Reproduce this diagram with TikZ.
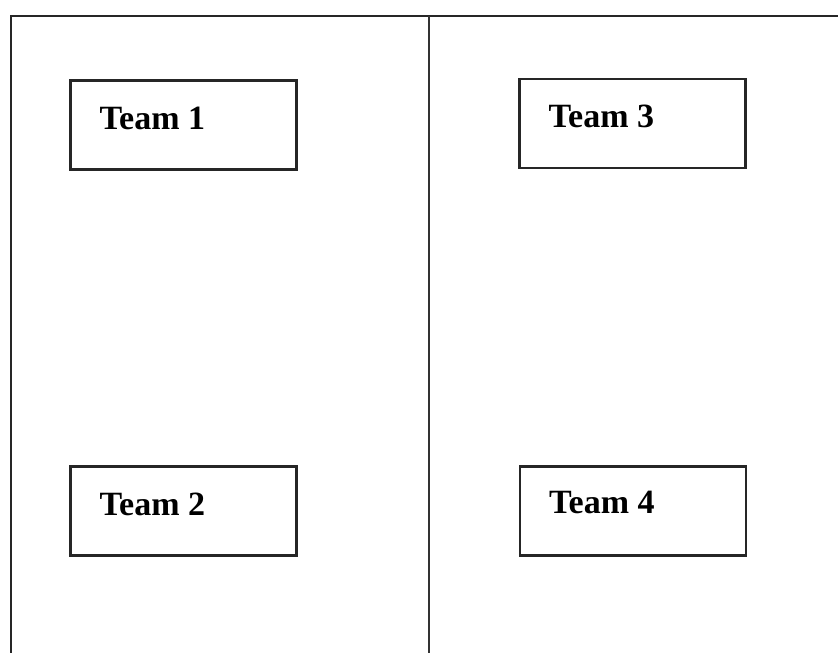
\documentclass[tikz,border=0pt]{standalone}
\usepackage{fontspec}
\setmainfont{Liberation Serif}
\begin{document}
\begin{tikzpicture}[x=1pt,y=-1pt,
  teambox/.style={draw=black!85,line width=2.2pt,minimum width=226pt,minimum height=89pt,inner sep=0pt},
  teamtext/.style={anchor=west,inner sep=0pt,font=\bfseries\fontsize{34}{38}\selectfont}]
\useasboundingbox (0,0) rectangle (838,653);
\coordinate (bl) at (11,653);
\coordinate (tl) at (11,16);
\coordinate (tr) at (838,16);
\coordinate (dt) at (429,16);
\coordinate (db) at (429,653);
\draw[line width=2.4pt,black!85] (bl) -- (tl) -- (tr);
\draw[line width=2.2pt,black!80] (dt) -- (db);
\node[teambox] (b1) at (183.5,125) {};
\node[teambox] (b3) at (632.5,123.5) {};
\node[teambox] (b2) at (183.5,511) {};
\node[teambox] (b4) at (633,511) {};
\node[teamtext] (t1) at ([xshift=30pt,yshift=7pt]b1.west) {Team 1};
\node[teamtext] (t3) at ([xshift=30pt,yshift=7pt]b3.west) {Team 3};
\node[teamtext] (t2) at ([xshift=30pt,yshift=7pt]b2.west) {Team 2};
\node[teamtext] (t4) at ([xshift=30pt,yshift=9pt]b4.west) {Team 4};
\end{tikzpicture}
\end{document}
